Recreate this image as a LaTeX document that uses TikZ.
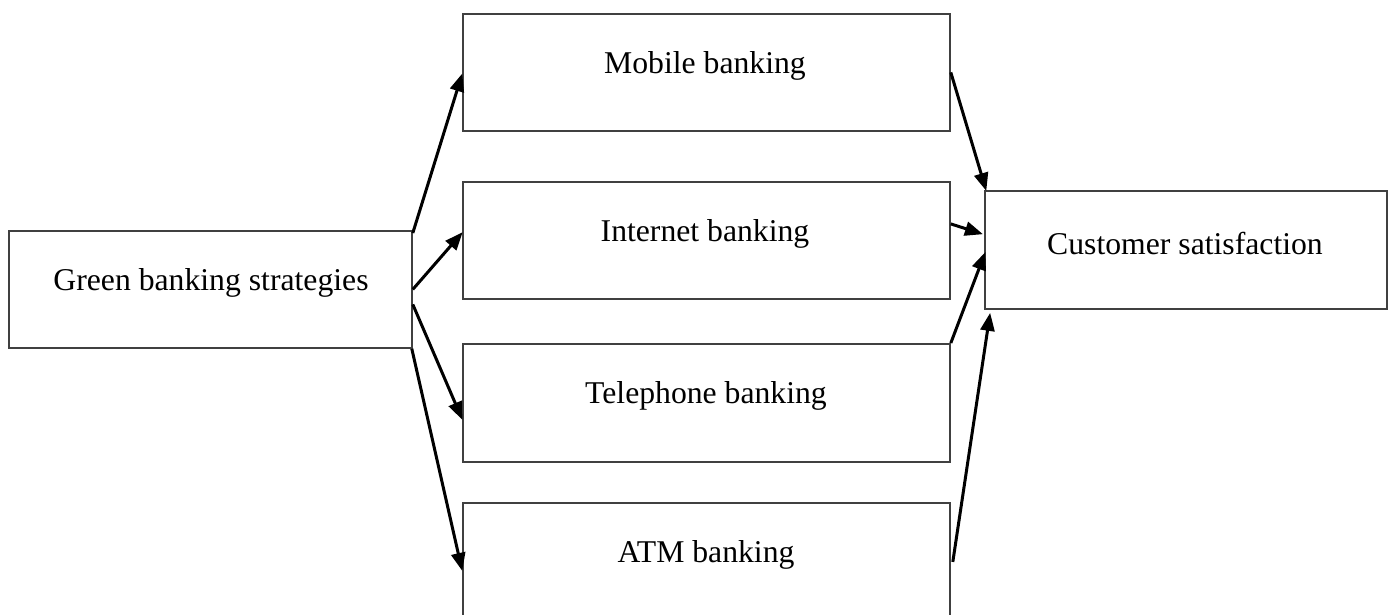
\documentclass[tikz,border=0pt]{standalone}
\usepackage{fontspec}
\setmainfont{Liberation Serif}
\usetikzlibrary{arrows.meta}
\begin{document}
\begin{tikzpicture}[x=1pt,y=-1pt,
  box/.style={draw=black!75,line width=1.8pt,minimum width=#1,inner sep=0pt,anchor=north west},
  lbl/.style={font=\fontsize{31.7}{38}\selectfont,inner sep=0pt,anchor=base},
  arr/.style={line width=3pt,-{Triangle[length=18pt,width=14pt]},shorten >=-1pt}]
\clip (0,0) rectangle (1391,614);
\node[box=403pt,minimum height=117pt] (g) at (8,230) {};
\node[box=487pt,minimum height=117pt] (m) at (462,13) {};
\node[box=487pt,minimum height=117pt] (i) at (462,181) {};
\node[box=487pt,minimum height=118pt] (t) at (462,343) {};
\node[box=487pt,minimum height=140pt] (a) at (462,502) {};
\node[box=402pt,minimum height=118pt] (c) at (984,190) {};
\node[lbl] at (211,290) {Green banking strategies};
\node[lbl] at (705,73) {Mobile banking};
\node[lbl] at (705,241) {Internet banking};
\node[lbl] at (706,403) {Telephone banking};
\node[lbl] at (706,562) {ATM banking};
\node[lbl] at (1185,254) {Customer satisfaction};
\draw[arr] ([yshift=-3pt]g.north east) -- ([yshift=-2pt]m.west);
\draw[arr] (g.east) -- ([yshift=7.5pt]i.west);
\draw[arr] ([yshift=-15pt]g.east) -- ([yshift=-16pt]t.west);
\draw[arr] ([xshift=-1pt]g.south east) -- ([yshift=3pt]a.west);
\draw[arr] (m.east) -- ([xshift=2pt]c.north west);
\draw[arr] ([yshift=16.5pt]i.east) -- ([xshift=-2pt,yshift=16pt]c.west);
\draw[arr] (t.north east) -- ([xshift=1pt,yshift=-3pt]c.west);
\draw[arr] ([xshift=2pt,yshift=11pt]a.east) -- ([xshift=6pt,yshift=-4pt]c.south west);
\end{tikzpicture}
\end{document}
